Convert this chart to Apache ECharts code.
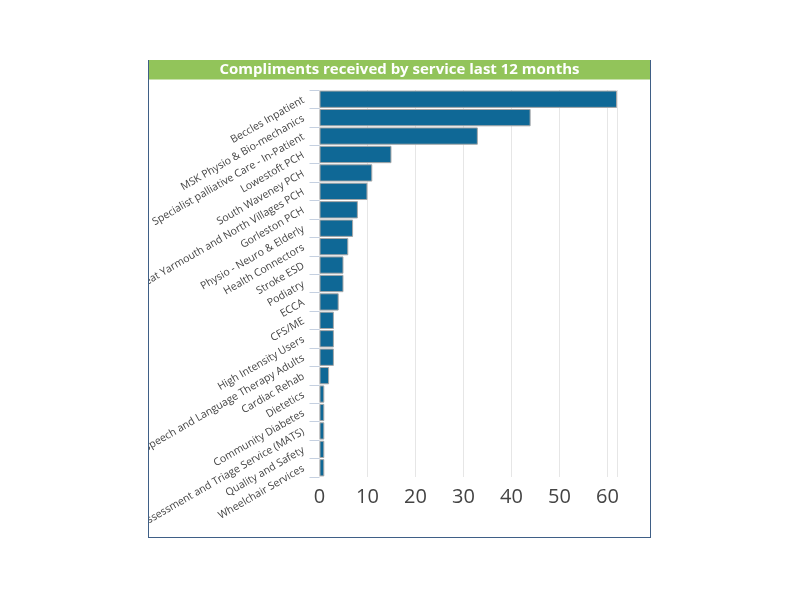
<!DOCTYPE html>
<html>
<head>
<meta charset="utf-8">
<title>Compliments received by service</title>
<script src="https://cdn.jsdelivr.net/npm/echarts@6/dist/echarts.min.js"></script>
<style>
  html, body { margin: 0; padding: 0; background: #fff; }
  #frame {
    position: absolute;
    left: 148px;
    top: 60px;
    width: 501px;
    height: 477px;
    border: 1.5px solid #3f5f86;
    border-top: none;
    overflow: hidden;
  }
  #chart { width: 501px; height: 477px; }
</style>
</head>
<body>
<div id="frame"><div id="chart"></div></div>
<script>
// services, top to bottom
var services = [
  'Beccles Inpatient',
  'MSK Physio & Bio-mechanics',
  'Specialist palliative Care - In-Patient',
  'Lowestoft PCH',
  'South Waveney PCH',
  'Great Yarmouth and North Villages PCH',
  'Gorleston PCH',
  'Physio - Neuro & Elderly',
  'Health Connectors',
  'Stroke ESD',
  'Podiatry',
  'ECCA',
  'CFS/ME',
  'High Intensity Users',
  'Speech and Language Therapy Adults',
  'Cardiac Rehab',
  'Dietetics',
  'Community Diabetes',
  'Assessment and Triage Service (MATS)',
  'Quality and Safety',
  'Wheelchair Services'
];
var compliments = [62, 44, 33, 15, 11, 10, 8, 7, 6, 5, 5, 4, 3, 3, 3, 2, 1, 1, 1, 1, 1];

var chart = echarts.init(document.getElementById('chart'));

chart.setOption({
  animation: false,
  textStyle: { fontFamily: 'Open Sans' },
  graphic: [{
    // green title strip
    type: 'rect',
    shape: { x: 0, y: 0, width: 501, height: 19.5 },
    style: { fill: '#92c45a' },
    z: 5
  }],
  title: {
    text: 'Compliments received by service last 12 months',
    left: 'center',
    top: 0,
    padding: [0, 0, 0, 0],
    textStyle: {
      color: '#fff',
      fontSize: 15,
      lineHeight: 20,
      fontWeight: 'bold',
      fontFamily: 'Open Sans'
    },
    z: 12
  },
  grid: {
    left: 170.5,
    right: 33,
    top: 30,
    bottom: 60,
    containLabel: false,
    outerBoundsMode: 'none'
  },
  xAxis: {
    type: 'value',
    min: 0,
    max: 62,
    interval: 10,
    axisLine: { show: false },
    axisTick: { show: false },
    splitLine: { lineStyle: { color: '#e6e6e6' } },
    axisLabel: {
      fontSize: 20,
      color: '#444',
      margin: 10,
      showMaxLabel: false
    }
  },
  yAxis: {
    type: 'category',
    inverse: true,
    data: services,
    axisLine: { show: false },
    axisTick: {
      show: true,
      length: 10,
      lineStyle: { color: '#c5d0e0' }
    },
    axisLabel: {
      interval: 0,
      rotate: 30,
      fontSize: 10.5,
      color: '#444',
      margin: 16
    }
  },
  series: [{
    type: 'bar',
    data: compliments,
    barCategoryGap: '6%',
    itemStyle: {
      color: '#0f6896',
      borderColor: '#a8a8a8',
      borderWidth: 1
    }
  }]
});
</script>
</body>
</html>
